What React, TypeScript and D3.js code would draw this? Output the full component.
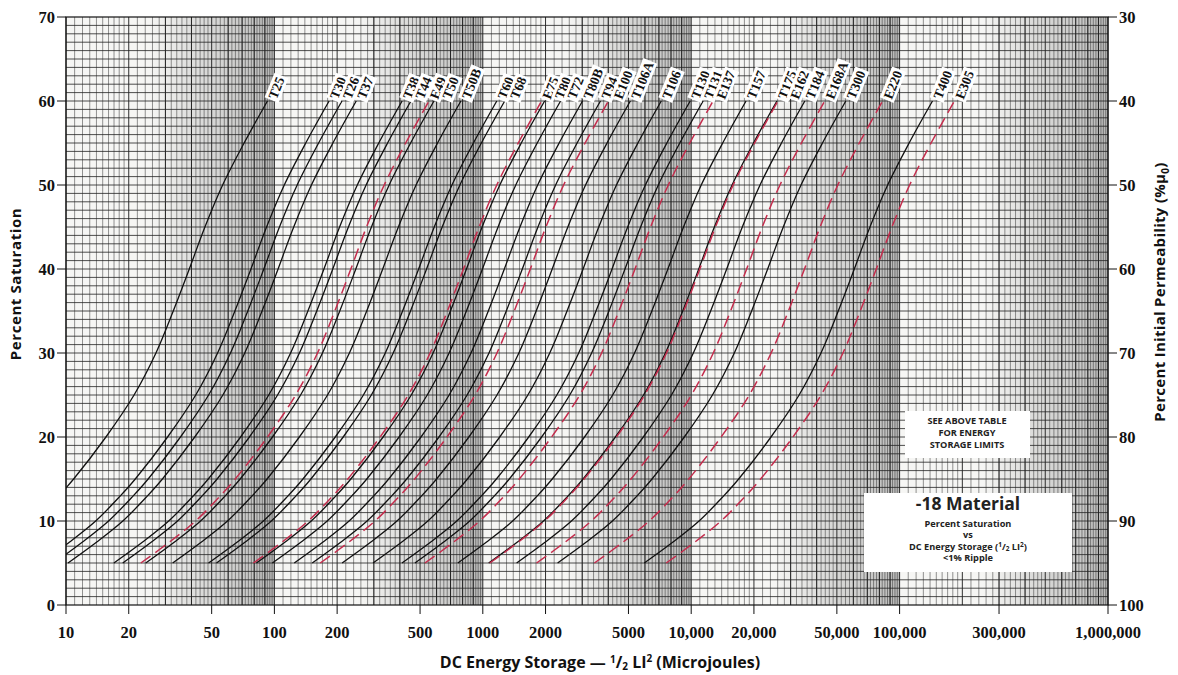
import * as d3 from "d3";

// Axis ticks
const satTicks = [0, 10, 20, 30, 40, 50, 60, 70];
const permTicks = [30, 40, 50, 60, 70, 80, 90, 100];
const energyTicks = [10, 20, 50, 100, 200, 500, 1000, 2000, 5000, 10000, 20000, 50000, 100000, 300000, 1000000];
const energyTickLabels = ["10", "20", "50", "100", "200", "500", "1000", "2000", "5000", "10,000", "20,000", "50,000", "100,000", "300,000", "1,000,000"];

// -18 material curve shape: percent saturation vs log10(energy / energy at 60%)
const shapeSat = [5, 7.5, 10, 12.9, 15, 20, 25, 30, 35, 40, 45, 50, 55, 60];
const shapeLogOffset = [-1.383, -1.245, -1.12, -1.005, -0.93, -0.775, -0.64, -0.535, -0.452, -0.375, -0.3, -0.215, -0.112, 0];

// cores, and energy (microjoules) read at 60% saturation
const coreNames = ["T25", "T30", "T26", "T37", "T38", "T44", "E49", "T50", "T50B", "T60", "T68", "E75", "T80", "T72", "T80B", "T94", "E100", "T106A", "T106", "T130", "T131", "E137", "T157", "T175", "E162", "T184", "E168A", "T300", "E220", "T400", "E305"];
const coreEnergy60 = [92.6, 183, 211, 247, 410, 452, 552, 583, 785, 1167, 1274, 1915, 1980, 2362, 3009, 3670, 4008, 5106, 7183, 9890, 11410, 12740, 18330, 25780, 26080, 35100, 43750, 55200, 82900, 143800, 183300];

const left = 66, right = 1108, top = 17, bottom = 605;

const serif = "'Liberation Serif', 'Times New Roman', serif";
const sans = "'Open Sans', Lato, sans-serif";

function labelWidth(s: string) {
  let w = 0;
  for (const c of s) w += /[0-9]/.test(c) ? 6.8 : 9;
  return w;
}

export default function App() {
  const x = d3.scaleLog().domain([10, 1e6]).range([left, right]);
  const y = d3.scaleLinear().domain([0, 70]).range([bottom, top]);
  const yPerm = d3.scaleLinear().domain([100, 30]).range([bottom, top]);

  // log paper grid
  const decades = [10, 100, 1000, 10000, 100000];
  const majorV: number[] = [];
  const minorV: number[] = [];
  decades.forEach((d) => {
    for (let m = 1; m <= 9; m++) majorV.push(d * m);
    for (let k = 1; k < 10; k++) minorV.push(d * (1 + k * 0.1));
    for (let k = 1; k < 15; k++) minorV.push(d * (2 + k * 0.2));
    for (let k = 1; k < 20; k++) minorV.push(d * (5 + k * 0.25));
  });
  majorV.push(1e6);
  const hLines = d3.range(1, 70);

  const line = d3
    .line<[number, number]>()
    .x((p) => p[0])
    .y((p) => p[1])
    .curve(d3.curveCatmullRom.alpha(0.5));

  const curves = coreNames.map((name, i) => {
    const pts: [number, number][] = shapeSat.map((s, j) => [
      x(coreEnergy60[i] * Math.pow(10, shapeLogOffset[j])),
      y(s),
    ]);
    return { name, dashed: name.startsWith("E"), d: line(pts) as string, xEnd: x(coreEnergy60[i]) };
  });

  // label positions, nudged apart
  const labelX: number[] = [];
  curves.forEach((c, i) => {
    const base = c.xEnd + 4;
    labelX.push(i === 0 ? base : Math.max(base, labelX[i - 1] + 12.5));
  });

  return (
    <svg width={1178} height={675} style={{ position: "absolute", left: 0, top: 0, background: "#fff" }}>
      <defs>
        <clipPath id="plot">
          <rect x={left} y={top} width={right - left} height={bottom - top} />
        </clipPath>
        <linearGradient id="shade" x1="0" x2="1" y1="0" y2="0">
          <stop offset="0" stopColor="#8a8a8a" stopOpacity={0} />
          <stop offset="0.35" stopColor="#8a8a8a" stopOpacity={0.22} />
          <stop offset="0.75" stopColor="#8a8a8a" stopOpacity={0.4} />
          <stop offset="1" stopColor="#7a7a7a" stopOpacity={0.5} />
        </linearGradient>
      </defs>

      <rect x={left} y={top} width={right - left} height={bottom - top} fill="#f6f6f4" />
      {decades.map((d) => (
        <rect key={d} x={x(d * 2.5)} y={top} width={x(d * 10) - x(d * 2.5)} height={bottom - top} fill="url(#shade)" />
      ))}

      <g stroke="#3a3a3a" strokeWidth={0.55}>
        {minorV.map((v, i) => (
          <line key={i} x1={x(v)} x2={x(v)} y1={top} y2={bottom} />
        ))}
      </g>
      <g stroke="#1a1a1a" strokeWidth={0.9}>
        {majorV.map((v, i) => (
          <line key={i} x1={x(v)} x2={x(v)} y1={top} y2={bottom} />
        ))}
      </g>
      <g stroke="#222" strokeWidth={0.8}>
        {hLines.map((v) => (
          <line key={v} x1={left} x2={right} y1={y(v)} y2={y(v)} />
        ))}
      </g>
      <rect x={left} y={top} width={right - left} height={bottom - top} fill="none" stroke="#111" strokeWidth={1.2} />

      <g clipPath="url(#plot)" fill="none">
        {curves.map((c) => (
          <path
            key={c.name}
            d={c.d}
            stroke={c.dashed ? "#c42c4c" : "#111"}
            strokeWidth={c.dashed ? 1.5 : 1.3}
            strokeDasharray={c.dashed ? "12 6" : undefined}
          />
        ))}
      </g>

      {curves.map((c, i) => {
        const w = labelWidth(c.name);
        return (
          <g key={c.name} transform={`translate(${labelX[i] + 5},${y(60) - 1}) rotate(-68)`}>
            <rect x={-2} y={-12} width={w + 4} height={15} fill="#fff" />
            <text x={0} y={0} fontFamily={serif} fontWeight="bold" fontSize={13.5} fill="#111">
              {c.name}
            </text>
          </g>
        );
      })}

      {/* notes */}
      <rect x={905} y={411} width={125} height={47} fill="#fff" />
      <g fontFamily={sans} fontWeight="bold" fontSize={9.2} textAnchor="middle" fill="#222">
        <text x={967} y={424}>SEE ABOVE TABLE</text>
        <text x={967} y={436}>FOR ENERGY</text>
        <text x={967} y={448}>STORAGE LIMITS</text>
      </g>
      <rect x={864} y={493} width={208} height={79} fill="#fff" />
      <g fontFamily={sans} textAnchor="middle" fill="#222">
        <text x={968} y={510} fontSize={17.5} fontWeight="bold">-18 Material</text>
        <text x={968} y={527} fontSize={9.2} fontWeight="bold">Percent Saturation</text>
        <text x={968} y={538} fontSize={9.2} fontWeight="bold">vs</text>
        <text x={968} y={550} fontSize={9.2} fontWeight="bold">
          DC Energy Storage (<tspan fontSize={6.5} dy={-3}>1</tspan>
          <tspan dy={3}>/</tspan>
          <tspan fontSize={6.5} dy={1}>2</tspan>
          <tspan dy={-1}> LI</tspan>
          <tspan fontSize={6.5} dy={-3}>2</tspan>
          <tspan dy={3}>)</tspan>
        </text>
        <text x={968} y={561} fontSize={9.2} fontWeight="bold">&lt;1% Ripple</text>
      </g>

      {/* left axis */}
      <g fontFamily={serif} fontWeight="bold" fontSize={16.5} fill="#111">
        {satTicks.map((t) => (
          <g key={t}>
            <line x1={left - 9} x2={left} y1={y(t)} y2={y(t)} stroke="#111" strokeWidth={1} />
            <text x={left - 11} y={y(t) + 5.5} textAnchor="end">{t}</text>
          </g>
        ))}
      </g>
      <text
        transform={`translate(21,${284}) rotate(-90)`}
        textAnchor="middle"
        fontFamily={sans}
        fontWeight="bold"
        fontSize={15}
        letterSpacing={0.6}
        fill="#111"
      >
        Percent Saturation
      </text>

      {/* right axis */}
      <g fontFamily={serif} fontWeight="bold" fontSize={16.5} fill="#111">
        {permTicks.map((t) => (
          <g key={t}>
            <line x1={right} x2={right + 9} y1={yPerm(t)} y2={yPerm(t)} stroke="#111" strokeWidth={1} />
            <text x={right + 11} y={yPerm(t) + 5.5} textAnchor="start">{t}</text>
          </g>
        ))}
      </g>
      <text
        transform={`translate(1165,${292}) rotate(-90)`}
        textAnchor="middle"
        fontFamily={sans}
        fontWeight="bold"
        fontSize={15}
        letterSpacing={0.3}
        fill="#111"
      >
        Percent Initial Permeability (%μ<tspan fontSize={10} dy={4}>0</tspan>
        <tspan dy={-4}>)</tspan>
      </text>

      {/* bottom axis */}
      <g fontFamily={serif} fontWeight="bold" fontSize={16.5} fill="#111">
        {energyTicks.map((t, i) => (
          <g key={t}>
            <line x1={x(t)} x2={x(t)} y1={bottom} y2={bottom + 9} stroke="#111" strokeWidth={1} />
            <text x={x(t)} y={638} textAnchor="middle">{energyTickLabels[i]}</text>
          </g>
        ))}
      </g>
      <text x={600} y={668} textAnchor="middle" fontFamily={sans} fontWeight="bold" fontSize={16} fill="#111">
        DC Energy Storage — <tspan fontSize={10} dy={-5}>1</tspan>
        <tspan dy={5}>/</tspan>
        <tspan fontSize={10} dy={2}>2</tspan>
        <tspan dy={-2}> LI</tspan>
        <tspan fontSize={10} dy={-6}>2</tspan>
        <tspan dy={6}> (Microjoules)</tspan>
      </text>
    </svg>
  );
}
